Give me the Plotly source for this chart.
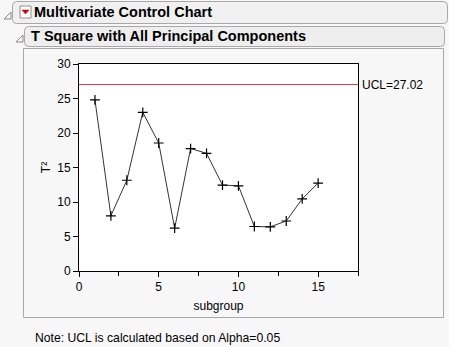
import plotly.graph_objects as go

subgroup = list(range(1, 16))
t2 = [24.8, 8.0, 13.15, 23.0, 18.55, 6.2, 17.75, 17.05, 12.45, 12.35, 6.45, 6.4, 7.25, 10.45, 12.75]
ucl = 27.02
title1 = "Multivariate Control Chart"
title2 = "T Square with All Principal Components"
note = "Note: UCL is calculated based on Alpha=0.05"

W, H = 449, 347
L, R, T, B = 79, 358, 64, 271

def px(x):
    return (x - L) / (R - L)

def py(y):
    return (B - y) / (B - T)

FONT = "Liberation Sans, Arial, sans-serif"

fig = go.Figure()
fig.add_trace(go.Scatter(
    x=subgroup, y=t2, mode="lines+markers",
    line=dict(color="#333333", width=1),
    marker=dict(symbol="cross-thin", size=7, line=dict(color="black", width=1.2)),
    showlegend=False, hoverinfo="skip"))

def rrect(x0, y0, x1, y1, r, fill, line):
    p = (f"M {px(x0+r)},{py(y0)} L {px(x1-r)},{py(y0)} Q {px(x1)},{py(y0)} {px(x1)},{py(y0+r)} "
         f"L {px(x1)},{py(y1-r)} Q {px(x1)},{py(y1)} {px(x1-r)},{py(y1)} "
         f"L {px(x0+r)},{py(y1)} Q {px(x0)},{py(y1)} {px(x0)},{py(y1-r)} "
         f"L {px(x0)},{py(y0+r)} Q {px(x0)},{py(y0)} {px(x0+r)},{py(y0)} Z")
    return dict(type="path", xref="paper", yref="paper", path=p, fillcolor=fill,
                line=dict(color=line, width=1), layer="below")

shapes = []
# header 1
shapes.append(rrect(12.5, 1.5, 447.5, 23.5, 4, "#f0f0f0", "#a8a8a8"))
# header 2
shapes.append(rrect(24.5, 26.5, 444.5, 46.5, 4, "#eeeeee", "#a8a8a8"))
# panel
shapes.append(dict(type="rect", xref="paper", yref="paper", x0=px(23.5), y0=py(48.5), x1=px(443.5), y1=py(317.5),
                   fillcolor="#f7f7f7", line=dict(color="#a8a8a8", width=1), layer="below"))
# plot area white
shapes.append(dict(type="rect", xref="paper", yref="paper", x0=0, y0=0, x1=1, y1=1,
                   fillcolor="white", line=dict(width=0), layer="below"))
# red icon box
shapes.append(dict(type="rect", xref="paper", yref="paper", x0=px(20), y0=py(6), x1=px(31), y1=py(18),
                   fillcolor="white", line=dict(color="#909090", width=1), layer="above"))
shapes.append(dict(type="path", xref="paper", yref="paper",
                   path=f"M {px(22)},{py(10)} L {px(29)},{py(10)} L {px(25.5)},{py(14)} Z",
                   fillcolor="#cc0000", line=dict(color="#cc0000", width=0.5), layer="above"))
# collapse triangles (gray)
for (x, y) in [(4, 19), (16, 42)]:
    shapes.append(dict(type="path", xref="paper", yref="paper",
                       path=f"M {px(x)},{py(y)} L {px(x+7)},{py(y)} L {px(x+7)},{py(y-7)} Z",
                       fillcolor="#f7f7f7", line=dict(color="#888888", width=1), layer="above"))
# UCL line
shapes.append(dict(type="line", xref="paper", yref="y", x0=0, x1=1, y0=ucl, y1=ucl,
                   line=dict(color="#d2384a", width=1), layer="above"))

annotations = [
    dict(text=f"<b>{title1}</b>", x=px(31.5), y=py(12), xref="paper", yref="paper", xanchor="left",
         yanchor="middle", showarrow=False, font=dict(family=FONT, size=14.5, color="black")),
    dict(text=f"<b>{title2}</b>", x=px(28.5), y=py(36), xref="paper", yref="paper", xanchor="left",
         yanchor="middle", showarrow=False, font=dict(family=FONT, size=14.5, color="black")),
    dict(text=f"UCL={ucl:.2f}", x=1, y=ucl, xref="paper", yref="y", xanchor="left", xshift=2,
         yanchor="middle", showarrow=False, font=dict(family=FONT, size=12, color="black")),
    dict(text=note, x=px(33), y=py(338), xref="paper", yref="paper", xanchor="left",
         yanchor="middle", showarrow=False, font=dict(family=FONT, size=12.2, color="black")),
]

fig.update_layout(
    width=W, height=H,
    margin=dict(l=L, r=W - R, t=T, b=H - B, pad=0),
    paper_bgcolor="#f7f7f7", plot_bgcolor="white",
    shapes=shapes, annotations=annotations,
    font=dict(family=FONT, size=12, color="black"),
    xaxis=dict(range=[0, 17.5], tickvals=[0, 5, 10, 15], showgrid=False, zeroline=False,
               showline=True, linecolor="black", linewidth=1, mirror=True,
               ticks="outside", ticklen=5, tickcolor="black",
               minor=dict(tickvals=[2.5, 7.5, 12.5, 17.5], ticks="outside", ticklen=4, tickcolor="black"),
               title=dict(text="subgroup", font=dict(size=12), standoff=8),
               tickfont=dict(size=12)),
    yaxis=dict(range=[0, 30], tickvals=[0, 5, 10, 15, 20, 25, 30], showgrid=False, zeroline=False,
               showline=True, linecolor="black", linewidth=1, mirror=True,
               ticks="outside", ticklen=5, tickcolor="black",
               title=dict(text="T²", font=dict(size=12), standoff=4),
               tickfont=dict(size=12)),
)

fig.write_html("out.html")
